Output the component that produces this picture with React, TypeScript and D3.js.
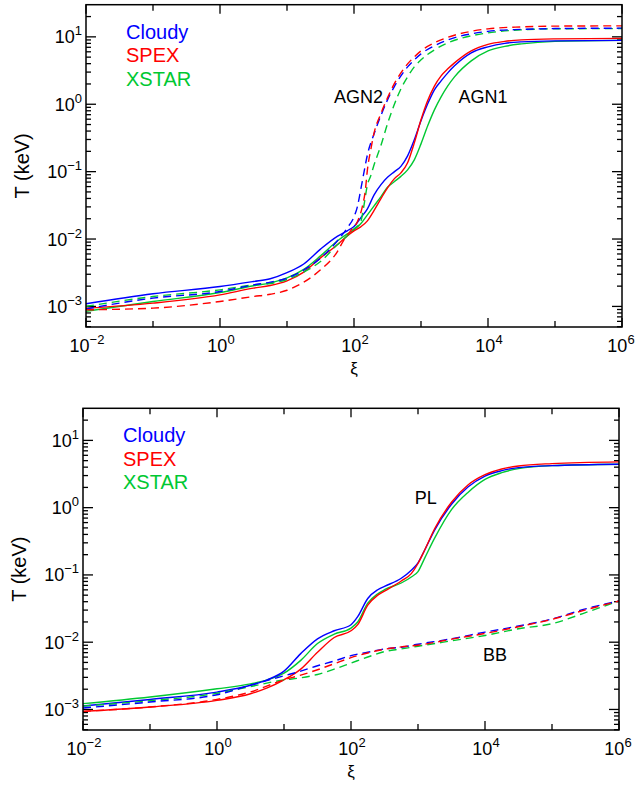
import React from 'react';
import * as d3 from 'd3';

type Pt = [number, number]; // [log10 xi, log10 T(keV)]

// ---------- Top panel: AGN1 (solid) / AGN2 (dashed) ----------
const agn1Cloudy: Pt[] = [[-2,-2.961],[-1,-2.813],[0,-2.705],[0.5,-2.63],[0.75,-2.59],[1,-2.5],[1.25,-2.37],[1.5,-2.15],[1.75,-1.96],[1.9,-1.878],[2,-1.815],[2.1,-1.685],[2.2,-1.552],[2.3,-1.344],[2.4,-1.196],[2.5,-1.085],[2.6,-1.003],[2.7,-0.922],[2.8,-0.766],[2.9,-0.528],[3,-0.246],[3.1,0.006],[3.2,0.214],[3.3,0.347],[3.4,0.466],[3.5,0.57],[3.75,0.763],[4,0.852],[4.25,0.904],[4.5,0.926],[5,0.941],[6,0.948]];
const agn1Spex: Pt[] = [[-2,-3.028],[-1,-2.951],[0,-2.828],[0.5,-2.728],[0.75,-2.69],[1,-2.62],[1.25,-2.49],[1.5,-2.28],[1.75,-2.086],[1.9,-1.953],[2,-1.878],[2.1,-1.819],[2.2,-1.73],[2.3,-1.574],[2.4,-1.404],[2.5,-1.24],[2.6,-1.107],[2.7,-1.018],[2.8,-0.869],[2.9,-0.573],[3,-0.231],[3.1,0.055],[3.2,0.27],[3.3,0.421],[3.4,0.525],[3.5,0.614],[3.75,0.792],[4,0.889],[4.25,0.933],[4.5,0.955],[5,0.97],[6,0.978]];
const agn1Xstar: Pt[] = [[-2,-3.073],[-1,-2.927],[0,-2.794],[0.5,-2.694],[0.75,-2.65],[1,-2.575],[1.25,-2.45],[1.5,-2.25],[1.75,-2.03],[1.9,-1.923],[2,-1.864],[2.1,-1.774],[2.2,-1.641],[2.3,-1.507],[2.4,-1.374],[2.5,-1.233],[2.6,-1.151],[2.7,-1.07],[2.8,-0.973],[2.9,-0.825],[3,-0.588],[3.1,-0.32],[3.2,-0.083],[3.3,0.11],[3.4,0.273],[3.5,0.407],[3.75,0.644],[4,0.792],[4.25,0.859],[4.5,0.896],[5,0.933],[6,0.948]];
const agn2Cloudy: Pt[] = [[-2,-3.036],[-1,-2.877],[0,-2.779],[0.5,-2.68],[0.75,-2.64],[1,-2.58],[1.25,-2.46],[1.5,-2.283],[1.75,-2.03],[1.9,-1.834],[2,-1.671],[2.05,-1.522],[2.1,-1.27],[2.15,-1.003],[2.2,-0.751],[2.3,-0.439],[2.4,-0.172],[2.5,0.065],[2.6,0.258],[2.7,0.421],[2.8,0.555],[2.9,0.659],[3,0.748],[3.2,0.866],[3.4,0.955],[3.75,1.045],[4,1.082],[4.5,1.111],[5,1.123],[6,1.129]];
const agn2Spex: Pt[] = [[-2,-3.05],[-1,-3.025],[0,-2.927],[0.5,-2.853],[0.75,-2.82],[1,-2.76],[1.25,-2.64],[1.5,-2.457],[1.75,-2.19],[1.85,-2.012],[1.95,-1.878],[2.05,-1.745],[2.12,-1.537],[2.17,-1.27],[2.2,-0.973],[2.25,-0.677],[2.3,-0.424],[2.4,-0.142],[2.5,0.095],[2.6,0.303],[2.7,0.466],[2.8,0.599],[2.9,0.703],[3,0.792],[3.2,0.911],[3.4,0.993],[3.75,1.082],[4,1.119],[4.5,1.148],[5,1.159],[6,1.163]];
const agn2Xstar: Pt[] = [[-2,-2.999],[-1,-2.853],[0,-2.754],[0.5,-2.68],[0.75,-2.66],[1,-2.6],[1.25,-2.49],[1.5,-2.334],[1.75,-2.086],[1.9,-1.953],[2,-1.849],[2.1,-1.745],[2.15,-1.493],[2.2,-1.196],[2.25,-1.062],[2.3,-0.899],[2.4,-0.617],[2.5,-0.291],[2.6,-0.009],[2.7,0.228],[2.8,0.407],[2.9,0.555],[3,0.659],[3.2,0.807],[3.4,0.911],[3.75,1.015],[4,1.059],[4.5,1.104],[5,1.119],[6,1.123]];

// ---------- Bottom panel: PL (solid) / BB (dashed) ----------
const plCloudy: Pt[] = [[-2,-2.948],[-1,-2.851],[0,-2.742],[0.5,-2.64],[0.75,-2.56],[1,-2.43],[1.25,-2.17],[1.5,-1.95],[1.75,-1.83],[2,-1.74],[2.1,-1.62],[2.25,-1.35],[2.4,-1.22],[2.5,-1.17],[2.75,-1.05],[2.9,-0.93],[3,-0.82],[3.1,-0.63],[3.25,-0.33],[3.5,0.05],[3.75,0.31],[4,0.47],[4.25,0.55],[4.5,0.595],[5,0.625],[6,0.645]];
const plSpex: Pt[] = [[-2,-3.028],[-1,-2.963],[0,-2.865],[0.5,-2.767],[0.75,-2.68],[1,-2.56],[1.25,-2.4],[1.5,-2.15],[1.75,-1.93],[2,-1.83],[2.1,-1.74],[2.25,-1.45],[2.4,-1.3],[2.5,-1.24],[2.75,-1.09],[2.9,-0.98],[3,-0.83],[3.1,-0.63],[3.25,-0.31],[3.5,0.08],[3.75,0.34],[4,0.49],[4.25,0.575],[4.5,0.62],[5,0.655],[6,0.68]];
const plXstar: Pt[] = [[-2,-2.914],[-1,-2.815],[0,-2.693],[0.5,-2.62],[0.75,-2.56],[1,-2.46],[1.25,-2.27],[1.5,-2.02],[1.75,-1.88],[2,-1.79],[2.1,-1.7],[2.25,-1.42],[2.4,-1.28],[2.5,-1.22],[2.75,-1.12],[2.9,-1.03],[3,-0.95],[3.1,-0.75],[3.25,-0.45],[3.5,-0.03],[3.75,0.23],[4,0.42],[4.25,0.52],[4.5,0.58],[5,0.625],[6,0.645]];
const bbCloudy: Pt[] = [[-2,-2.978],[-1,-2.889],[0,-2.781],[0.5,-2.64],[1,-2.5],[1.25,-2.43],[1.5,-2.35],[1.75,-2.28],[2,-2.2],[2.25,-2.15],[2.5,-2.1],[2.75,-2.075],[3,-2.03],[3.5,-1.95],[4,-1.85],[4.5,-1.76],[5,-1.655],[5.5,-1.505],[6,-1.388]];
const bbSpex: Pt[] = [[-2,-3.028],[-1,-2.963],[0,-2.85],[0.5,-2.74],[1,-2.56],[1.25,-2.49],[1.5,-2.41],[1.75,-2.32],[2,-2.23],[2.25,-2.16],[2.5,-2.105],[2.75,-2.07],[3,-2.045],[3.5,-1.955],[4,-1.87],[4.5,-1.77],[5,-1.66],[5.5,-1.52],[6,-1.388]];
const bbXstar: Pt[] = [[-2,-2.95],[-1,-2.87],[0,-2.76],[0.5,-2.66],[1,-2.56],[1.25,-2.53],[1.5,-2.48],[1.75,-2.4],[2,-2.31],[2.25,-2.22],[2.5,-2.14],[2.75,-2.1],[3,-2.06],[3.5,-1.98],[4,-1.9],[4.5,-1.8],[5,-1.725],[5.5,-1.56],[6,-1.388]];

// ---------- Axes / legend text ----------
const xDomain: [number, number] = [1e-2, 1e6];
const yDomain: [number, number] = [4.95e-4, 30];
const xTickExps = [-2, -1, 0, 1, 2, 3, 4, 5, 6];
const xLabelExps = [-2, 0, 2, 4, 6];
const yTickExps = [-3, -2, -1, 0, 1];
const legendNames = ['Cloudy', 'SPEX', 'XSTAR'];
const codeColors = ['#0000ff', '#ff0000', '#00c832'];

const FONT = 'Liberation Sans, Arial, Helvetica, sans-serif';

function expLabel(e: number) {
  return e < 0 ? '\u2212' + Math.abs(e) : String(e);
}

type SeriesDef = { data: Pt[]; color: string; dashed: boolean };
type Note = { text: string; x: number; y: number }; // x in xi, y in T

function Panel(props: {
  left: number; top: number; right: number; bottom: number;
  series: SeriesDef[]; notes: Note[]; yLabelX: number;
}) {
  const { left, top, right, bottom, series, notes, yLabelX } = props;
  const x = d3.scaleLog().domain(xDomain).range([left, right]);
  const y = d3.scaleLog().domain(yDomain).range([bottom, top]);
  const line = d3.line<Pt>()
    .x(d => x(Math.pow(10, d[0])))
    .y(d => y(Math.pow(10, d[1])))
    .curve(d3.curveMonotoneX);

  const minorY: number[] = [];
  for (let e = -4; e <= 1; e++) {
    for (let m = 2; m <= 9; m++) {
      const v = m * Math.pow(10, e);
      if (v > yDomain[0] && v < yDomain[1]) minorY.push(v);
    }
  }
  const ticks: JSX.Element[] = [];
  yTickExps.forEach(e => {
    const yy = y(Math.pow(10, e));
    ticks.push(<line key={'yl' + e} x1={left} x2={left + 10} y1={yy} y2={yy} />);
    ticks.push(<line key={'yr' + e} x1={right} x2={right - 10} y1={yy} y2={yy} />);
  });
  minorY.forEach((v, i) => {
    const yy = y(v);
    ticks.push(<line key={'ml' + i} x1={left} x2={left + 5} y1={yy} y2={yy} />);
    ticks.push(<line key={'mr' + i} x1={right} x2={right - 5} y1={yy} y2={yy} />);
  });
  xTickExps.forEach(e => {
    const xx = x(Math.pow(10, e));
    const len = xLabelExps.includes(e) ? 9 : 6;
    ticks.push(<line key={'xb' + e} x1={xx} x2={xx} y1={bottom} y2={bottom - len} />);
    ticks.push(<line key={'xt' + e} x1={xx} x2={xx} y1={top} y2={top + len} />);
  });

  return (
    <g fontFamily={FONT}>
      <g stroke="#000" strokeWidth={1.3}>{ticks}</g>
      {series.map((s, i) => (
        <path key={i} d={line(s.data) || ''} fill="none" stroke={s.color}
          strokeWidth={1.4} strokeDasharray={s.dashed ? '8,5' : undefined} />
      ))}
      <rect x={left} y={top} width={right - left} height={bottom - top}
        fill="none" stroke="#000" strokeWidth={1.5} />
      {yTickExps.map(e => (
        <text key={'ytl' + e} x={left - 4} y={y(Math.pow(10, e)) + 6.5}
          textAnchor="end" fontSize={18}>10<tspan dy={-8} fontSize={13}>{expLabel(e)}</tspan></text>
      ))}
      {xLabelExps.map(e => (
        <text key={'xtl' + e} x={x(Math.pow(10, e)) + (e === 6 ? -1 : 1)} y={bottom + 25}
          textAnchor="middle" fontSize={18}>10<tspan dy={-8} fontSize={13}>{expLabel(e)}</tspan></text>
      ))}
      <text x={(left + right) / 2} y={bottom + 47} textAnchor="middle" fontSize={17}>ξ</text>
      <text transform={`translate(${yLabelX},${(top + bottom) / 2}) rotate(-90)`}
        textAnchor="middle" fontSize={20}>T (keV)</text>
      {legendNames.map((n, i) => (
        <text key={n} x={left + 40} y={top + 34 + i * 23.5} fontSize={20} fill={codeColors[i]}>{n}</text>
      ))}
      {notes.map(n => (
        <text key={n.text} x={x(n.x)} y={y(n.y)} fontSize={18}>{n.text}</text>
      ))}
    </g>
  );
}

export default function App() {
  const topSeries: SeriesDef[] = [
    { data: agn1Xstar, color: codeColors[2], dashed: false },
    { data: agn1Cloudy, color: codeColors[0], dashed: false },
    { data: agn1Spex, color: codeColors[1], dashed: false },
    { data: agn2Xstar, color: codeColors[2], dashed: true },
    { data: agn2Cloudy, color: codeColors[0], dashed: true },
    { data: agn2Spex, color: codeColors[1], dashed: true },
  ];
  const bottomSeries: SeriesDef[] = [
    { data: plXstar, color: codeColors[2], dashed: false },
    { data: plCloudy, color: codeColors[0], dashed: false },
    { data: plSpex, color: codeColors[1], dashed: false },
    { data: bbXstar, color: codeColors[2], dashed: true },
    { data: bbCloudy, color: codeColors[0], dashed: true },
    { data: bbSpex, color: codeColors[1], dashed: true },
  ];
  return (
    <svg width={638} height={785} style={{ position: 'absolute', left: 0, top: 0, background: '#fff' }}>
      <rect width={638} height={785} fill="#fff" />
      <Panel left={86} top={4.7} right={622} bottom={327} series={topSeries}
        yLabelX={29}
        notes={[{ text: 'AGN2', x: Math.pow(10, 1.7), y: 1.05 }, { text: 'AGN1', x: Math.pow(10, 3.56), y: 1.05 }]} />
      <Panel left={83} top={408.3} right={619} bottom={730} series={bottomSeries}
        yLabelX={26}
        notes={[{ text: 'PL', x: Math.pow(10, 2.95), y: 1.12 }, { text: 'BB', x: Math.pow(10, 3.97), y: 0.0053 }]} />
    </svg>
  );
}
